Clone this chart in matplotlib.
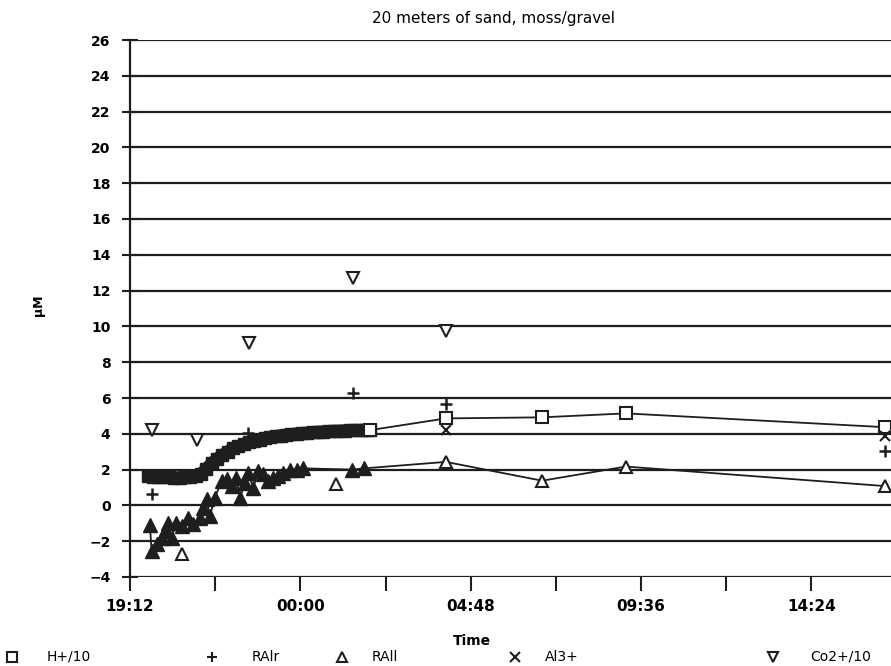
import matplotlib
matplotlib.use("Agg")
import matplotlib.pyplot as plt
from matplotlib.ticker import MultipleLocator, FuncFormatter
from matplotlib.lines import Line2D

# time in hours from midnight of day 1 (24.0 = 00:00 next day)
h_time = [19.70, 19.85, 20.00, 20.15, 20.30, 20.45, 20.60, 20.75, 20.90, 21.05,
          21.20, 21.35, 21.50, 21.65, 21.80, 21.95, 22.10, 22.25, 22.40, 22.55,
          22.70, 22.85, 23.00, 23.15, 23.30, 23.45, 23.60, 23.75, 23.90, 24.05,
          24.20, 24.35, 24.50, 24.65, 24.80, 24.95, 25.10, 25.25, 25.40, 25.55,
          25.70, 25.85, 25.95]
h_vals = [1.62, 1.60, 1.58, 1.57, 1.56, 1.55, 1.55, 1.56, 1.58, 1.62,
          1.75, 2.05, 2.35, 2.60, 2.80, 3.00, 3.18, 3.30, 3.42, 3.52,
          3.60, 3.68, 3.75, 3.80, 3.86, 3.90, 3.94, 3.97, 4.00, 4.03,
          4.05, 4.08, 4.10, 4.12, 4.13, 4.15, 4.16, 4.18, 4.19, 4.19,
          4.20, 4.20, 4.20]
h_time_late = [28.10, 30.81, 33.17, 40.47]
h_vals_late = [4.86, 4.92, 5.14, 4.37]

rall_time = [19.76, 19.81, 19.95, 20.09, 20.19, 20.28, 20.37, 20.51, 20.66, 20.82,
             20.98, 21.17, 21.27, 21.36, 21.45, 21.59, 21.78, 21.92, 22.06, 22.20,
             22.30, 22.44, 22.53, 22.67, 22.82, 22.96, 23.10, 23.24, 23.38, 23.52,
             23.71, 23.90, 24.08, 25.46, 25.80]
rall_vals = [-1.10, -2.55, -2.18, -1.80, -1.43, -0.97, -1.80, -0.97, -1.15, -0.69,
             -1.06, -0.69, -0.13, 0.34, -0.60, 0.43, 1.36, 1.45, 1.08, 1.55,
             0.43, 1.27, 1.82, 0.99, 1.92, 1.73, 1.36, 1.55, 1.64, 1.82,
             2.00, 2.00, 2.07, 2.00, 2.07]
rall_time_late = [28.10, 30.81, 33.17, 40.47]
rall_vals_late = [2.43, 1.38, 2.17, 1.08]
rall_time_single = [20.66, 24.99]
rall_vals_single = [-2.74, 1.21]

ralr_time = [19.81, 22.52, 25.48, 28.10, 40.47]
ralr_vals = [0.65, 4.07, 6.28, 5.66, 3.06]

al_time = [28.10, 40.47]
al_vals = [4.22, 3.85]

co_time = [19.82, 21.09, 22.55, 25.48, 28.10]
co_vals = [4.24, 3.68, 9.07, 12.70, 9.75]

ink = "#1e1e1e"

fig = plt.figure(figsize=(8.91, 6.66), dpi=100)
ax = fig.add_axes([130 / 891, 1 - 577 / 666, 761 / 891, 537 / 666])

for y in range(-4, 27, 2):
    ax.axhline(y, color=ink, lw=1.6, zorder=1)

# H+/10 : the dense logger run merges into one thick band
ax.plot(h_time + h_time_late, h_vals + h_vals_late, color=ink, lw=1.3, zorder=2)
ax.plot(h_time, h_vals, color=ink, lw=9, solid_capstyle="butt", zorder=3)
ax.plot(h_time, h_vals, ls="none", marker="s", ms=9, mfc=ink, mec=ink, zorder=3)
ax.plot(h_time[-1:] + h_time_late, h_vals[-1:] + h_vals_late, ls="none", marker="s",
        ms=8, mfc="white", mec=ink, mew=1.5, zorder=4)

# RAll
ax.plot(rall_time + rall_time_late, rall_vals + rall_vals_late, color=ink, lw=1.3, zorder=2)
ax.plot(rall_time, rall_vals, ls="none", marker="^", ms=10, mfc=ink, mec=ink, zorder=3)
ax.plot(rall_time_late + rall_time_single, rall_vals_late + rall_vals_single, ls="none",
        marker="^", ms=8, mfc="white", mec=ink, mew=1.5, zorder=4)

# RAlr
ax.plot(ralr_time, ralr_vals, ls="none", marker="+", ms=8, mew=1.8, color=ink, zorder=4)
# Al3+
ax.plot(al_time, al_vals, ls="none", marker="x", ms=7, mew=1.5, color=ink, zorder=4)
# Co2+/10
ax.plot(co_time, co_vals, ls="none", marker="v", ms=8, mfc="white", mec=ink, mew=1.5, zorder=4)

ax.set_xlim(19.2, 40.64)
ax.set_ylim(-4, 26)
ax.yaxis.set_major_locator(MultipleLocator(2))
ax.xaxis.set_major_locator(MultipleLocator(4.8))
ax.xaxis.set_minor_locator(MultipleLocator(2.4))


def hhmm(x, pos):
    total = int(round(x * 60)) % (24 * 60)
    return "%02d:%02d" % (total // 60, total % 60)


ax.xaxis.set_major_formatter(FuncFormatter(hhmm))

for side in ["top", "right", "bottom"]:
    ax.spines[side].set_visible(False)
ax.spines["left"].set_linewidth(1.6)
ax.spines["left"].set_color(ink)

ax.tick_params(axis="y", direction="inout", length=12, width=1.5, color=ink, pad=8,
               labelsize=10)
ax.tick_params(axis="x", which="both", direction="out", length=10, width=1.5, color=ink,
               pad=6, labelsize=11)
for lab in ax.get_xticklabels() + ax.get_yticklabels():
    lab.set_fontweight("bold")

fig.text(494 / 891, 1 - 18 / 666, "20 meters of sand, moss/gravel", ha="center",
         va="center", fontsize=11)
fig.text(38 / 891, 1 - 305 / 666, "µM", rotation=90, ha="center", va="center",
         fontsize=9, fontweight="bold")
fig.text(472 / 891, 1 - 641 / 666, "Time", ha="center", va="center", fontsize=10,
         fontweight="bold")

# legend row along the bottom edge
legend_items = [("s", "white", "H+/10", 12, 47),
                ("+", ink, "RAlr", 212, 252),
                ("^", "white", "RAll", 342, 372),
                ("x", ink, "Al3+", 515, 545),
                ("v", "white", "Co2+/10", 773, 810)]
ly = 1 - 657 / 666
for mk, fc, name, mx, tx in legend_items:
    fig.add_artist(Line2D([mx / 891], [ly], transform=fig.transFigure, ls="none",
                          marker=mk, ms=7, mfc=fc, mec=ink, color=ink, mew=1.5))
    fig.text(tx / 891, ly, name, ha="left", va="center", fontsize=10)

fig.savefig("out.png", dpi=100)
